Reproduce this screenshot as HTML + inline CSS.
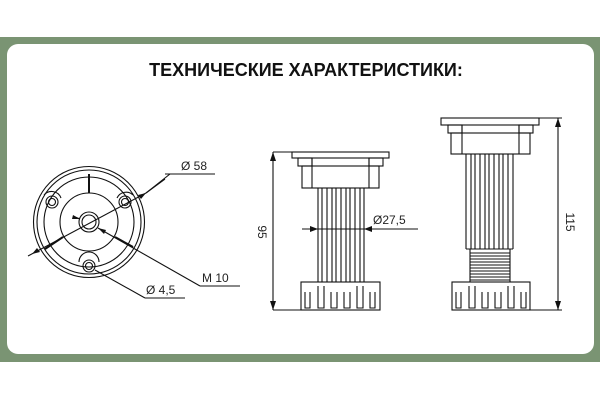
<!DOCTYPE html>
<html><head><meta charset="utf-8"><style>
body{margin:0;width:600px;height:400px;background:#fff;overflow:hidden}
</style></head><body>
<svg width="600" height="400" xmlns="http://www.w3.org/2000/svg" font-family="Liberation Sans, DejaVu Sans, sans-serif">
<rect x="0" y="37" width="600" height="325" fill="#7a9473"/>
<rect x="7" y="44" width="587" height="310" rx="11" fill="#fff"/>
<text x="306" y="76" text-anchor="middle" font-size="18" font-weight="bold" fill="#111">ТЕХНИЧЕСКИЕ ХАРАКТЕРИСТИКИ:</text>
<g fill="none" stroke="#111" stroke-width="1.1">
<circle cx="89" cy="222" r="55.5"/>
<circle cx="89" cy="222" r="52"/>
<circle cx="89" cy="222" r="45"/>
<circle cx="89" cy="222" r="29"/>
<circle cx="89" cy="222" r="10"/>
<circle cx="89" cy="222" r="7"/>
<line x1="89" y1="174" x2="89" y2="193" stroke-width="2"/>
<line x1="63" y1="237" x2="45" y2="249" stroke-width="2"/>
<line x1="115" y1="237" x2="133" y2="247" stroke-width="2"/>
<circle cx="52" cy="202" r="6"/><circle cx="52" cy="202" r="3.5"/>
<circle cx="125" cy="202" r="6"/><circle cx="125" cy="202" r="3.5"/>
<circle cx="89" cy="266" r="6"/><circle cx="89" cy="266" r="3.5"/>
<path d="M44 195 A10 10 0 0 1 61 198"/><path d="M117 198 A10 10 0 0 1 133 195"/>
<path d="M79 262 A10 10 0 0 1 99 262"/>
<line x1="28" y1="256" x2="146" y2="193"/>
<line x1="146" y1="193" x2="165" y2="179"/><line x1="165" y1="174" x2="215" y2="174"/>
<line x1="170" y1="174" x2="146" y2="193"/>
<line x1="98" y1="228" x2="200" y2="286"/><line x1="200" y1="286" x2="240" y2="286"/>
<line x1="75" y1="217" x2="80" y2="219"/>
<line x1="95" y1="270" x2="145" y2="298"/><line x1="145" y1="298" x2="185" y2="298"/>
<rect x="292" y="152" width="97" height="6"/>
<rect x="298" y="158" width="14" height="8"/><rect x="369" y="158" width="14" height="8"/>
<rect x="302" y="166" width="77" height="22"/>
<line x1="312" y1="158" x2="312" y2="188"/><line x1="369" y1="158" x2="369" y2="188"/>
<path d="M318 188V282M322 188V282M327 188V282M332 188V282M336 188V282M341 188V282M346 188V282M350 188V282M355 188V282M360 188V282M364 188V282"/>
<rect x="301" y="282" width="79" height="28"/>
<path d="M305 292V308H310V292M318 286V308H324V286M331 292V308H337V292M344 292V308H350V292M357 286V308H363V286M370 292V308H375V292"/>
<line x1="273" y1="152" x2="292" y2="152"/><line x1="273" y1="310" x2="301" y2="310"/>
<line x1="273" y1="152" x2="273" y2="310"/>
<line x1="302" y1="229" x2="418" y2="229"/>
<rect x="441" y="118" width="98" height="7"/>
<rect x="448" y="125" width="14" height="8"/><rect x="519" y="125" width="14" height="8"/>
<rect x="451" y="133" width="79" height="21"/>
<line x1="462" y1="125" x2="462" y2="154"/><line x1="519" y1="125" x2="519" y2="154"/>
<path d="M466 154V249M471 154V249M475 154V249M480 154V249M485 154V249M489 154V249M494 154V249M499 154V249M503 154V249M508 154V249M513 154V249M466 249H513"/>
<path d="M470 249V282M510 249V282M470 253H510M470 256H510M470 259H510M470 262H510M470 265H510M470 268H510M470 271H510M470 274H510M470 277H510M470 280H510"/>
<rect x="452" y="282" width="78" height="28"/>
<path d="M456 292V308H461V292M469 286V308H475V286M482 292V308H488V292M495 292V308H501V292M508 286V308H514V286M521 292V308H526V292"/>
<line x1="539" y1="118" x2="562" y2="118"/><line x1="530" y1="310" x2="562" y2="310"/>
<line x1="558" y1="118" x2="558" y2="310"/>
</g>
<g fill="#111">
<path d="M273 152l-3 9h6z"/><path d="M273 310l-3-9h6z"/>
<path d="M558 118l-3 9h6z"/><path d="M558 310l-3-9h6z"/>
<path d="M318 229l-8-3v6z"/><path d="M364 229l8-3v6z"/>
<path d="M146 193l-8 2 3 4z"/><path d="M32 254l8-2-3-4z"/>
<path d="M98 228l6 6 2-4z"/><path d="M80 219l-7-4 -1 4z"/>
</g>
<g font-size="12" fill="#222">
<text x="181" y="170">Ø 58</text>
<text x="202" y="282">M 10</text>
<text x="146" y="294">Ø 4,5</text>
<text x="373" y="224">Ø27,5</text>
<text transform="translate(258,232) rotate(90)" text-anchor="middle">95</text>
<text transform="translate(566,222) rotate(90)" text-anchor="middle">115</text>
</g>
</svg>
</body></html>
